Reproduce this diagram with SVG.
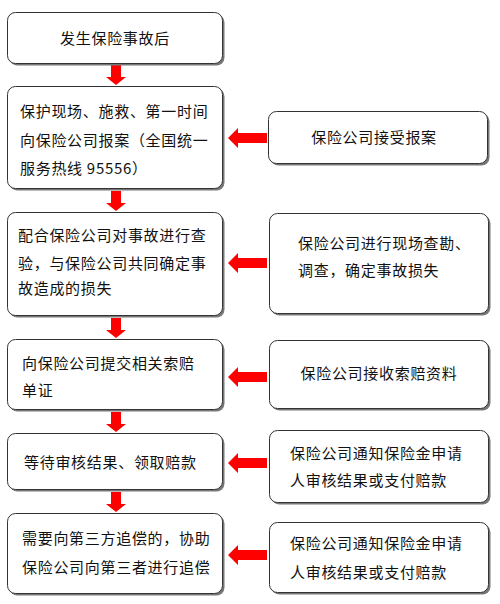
<svg xmlns="http://www.w3.org/2000/svg" width="500" height="604" viewBox="0 0 500 604">
<style>
.box{fill:#fff;stroke:#333;stroke-width:1}
.sh{fill:#777}
.t{font-family:"Noto Sans CJK SC","Liberation Sans",sans-serif;font-size:15px;fill:#111;letter-spacing:0.7px}
.c{text-anchor:middle}
.arr{fill:#ff0000}
</style>
<rect width="500" height="604" fill="#fff"/>
<g id="connectors">
<path class="arr" d="M111,65 H121 V77 H126 L116,85 L106,77 H111 Z"/>
<path class="arr" d="M111,191 H121 V203 H126 L116,211 L106,203 H111 Z"/>
<path class="arr" d="M111,318 H121 V330 H126 L116,338 L106,330 H111 Z"/>
<path class="arr" d="M111,412 H121 V424 H126 L116,432 L106,424 H111 Z"/>
<path class="arr" d="M111,492 H121 V504 H126 L116,512 L106,504 H111 Z"/>
<path class="arr" d="M267,133 V143 H238 V148 L228,138 L238,128 V133 Z"/>
<path class="arr" d="M267,258 V268 H238 V273 L228,263 L238,253 V258 Z"/>
<path class="arr" d="M267,372 V382 H238 V387 L228,377 L238,367 V372 Z"/>
<path class="arr" d="M267,458 V468 H238 V473 L228,463 L238,453 V458 Z"/>
<path class="arr" d="M267,550 V560 H238 V565 L228,555 L238,545 V550 Z"/>
</g>
<g id="n1">
<rect class="sh" x="9.5" y="14.5" width="215" height="51" rx="8"/>
<rect class="box" x="7.5" y="12.5" width="215" height="51" rx="8"/>
<text class="t c" x="115" y="43.5">发生保险事故后</text>
</g>
<g id="n2">
<rect class="sh" x="9.5" y="88.5" width="215" height="102" rx="8"/>
<rect class="box" x="7.5" y="86.5" width="215" height="102" rx="8"/>
<text class="t" x="20" y="116.5">保护现场、施救、第一时间</text>
<text class="t" x="20" y="145.5">向保险公司报案（全国统一</text>
<text class="t" x="20" y="173.5">服务热线 95556）</text>
</g>
<g id="n3">
<rect class="sh" x="9.5" y="214.5" width="215" height="103" rx="8"/>
<rect class="box" x="7.5" y="212.5" width="215" height="103" rx="8"/>
<text class="t" x="18" y="240.5">配合保险公司对事故进行查</text>
<text class="t" x="18" y="268.5">验，与保险公司共同确定事</text>
<text class="t" x="18" y="293.5">故造成的损失</text>
</g>
<g id="n4">
<rect class="sh" x="9.5" y="341.5" width="215" height="70" rx="8"/>
<rect class="box" x="7.5" y="339.5" width="215" height="70" rx="8"/>
<text class="t" x="22" y="368.5">向保险公司提交相关索赔</text>
<text class="t" x="22" y="395.5">单证</text>
</g>
<g id="n5">
<rect class="sh" x="9.5" y="435.5" width="215" height="56" rx="8"/>
<rect class="box" x="7.5" y="433.5" width="215" height="56" rx="8"/>
<text class="t" x="24" y="467.5">等待审核结果、领取赔款</text>
</g>
<g id="n6">
<rect class="sh" x="9.5" y="515.5" width="215" height="80" rx="8"/>
<rect class="box" x="7.5" y="513.5" width="215" height="80" rx="8"/>
<text class="t" x="22" y="543.5">需要向第三方追偿的，协助</text>
<text class="t" x="22" y="572.5">保险公司向第三者进行追偿</text>
</g>
<g id="r1">
<rect class="sh" x="270.5" y="113.5" width="219" height="52" rx="8"/>
<rect class="box" x="268.5" y="111.5" width="219" height="52" rx="8"/>
<text class="t c" x="374" y="142.5">保险公司接受报案</text>
</g>
<g id="r2">
<rect class="sh" x="271.5" y="215.5" width="219" height="100" rx="8"/>
<rect class="box" x="269.5" y="213.5" width="219" height="100" rx="8"/>
<text class="t" x="298" y="248.5">保险公司进行现场查勘、</text>
<text class="t" x="298" y="275.5">调查，确定事故损失</text>
</g>
<g id="r3">
<rect class="sh" x="271.5" y="342.5" width="219" height="68" rx="8"/>
<rect class="box" x="269.5" y="340.5" width="219" height="68" rx="8"/>
<text class="t c" x="379" y="378.5">保险公司接收索赔资料</text>
</g>
<g id="r4">
<rect class="sh" x="271.5" y="432.5" width="219" height="72" rx="8"/>
<rect class="box" x="269.5" y="430.5" width="219" height="72" rx="8"/>
<text class="t" x="290" y="458.5">保险公司通知保险金申请</text>
<text class="t" x="290" y="485.5">人审核结果或支付赔款</text>
</g>
<g id="r5">
<rect class="sh" x="271.5" y="524.5" width="219" height="70" rx="8"/>
<rect class="box" x="269.5" y="522.5" width="219" height="70" rx="8"/>
<text class="t" x="290" y="548.5">保险公司通知保险金申请</text>
<text class="t" x="290" y="577.5">人审核结果或支付赔款</text>
</g>
</svg>
